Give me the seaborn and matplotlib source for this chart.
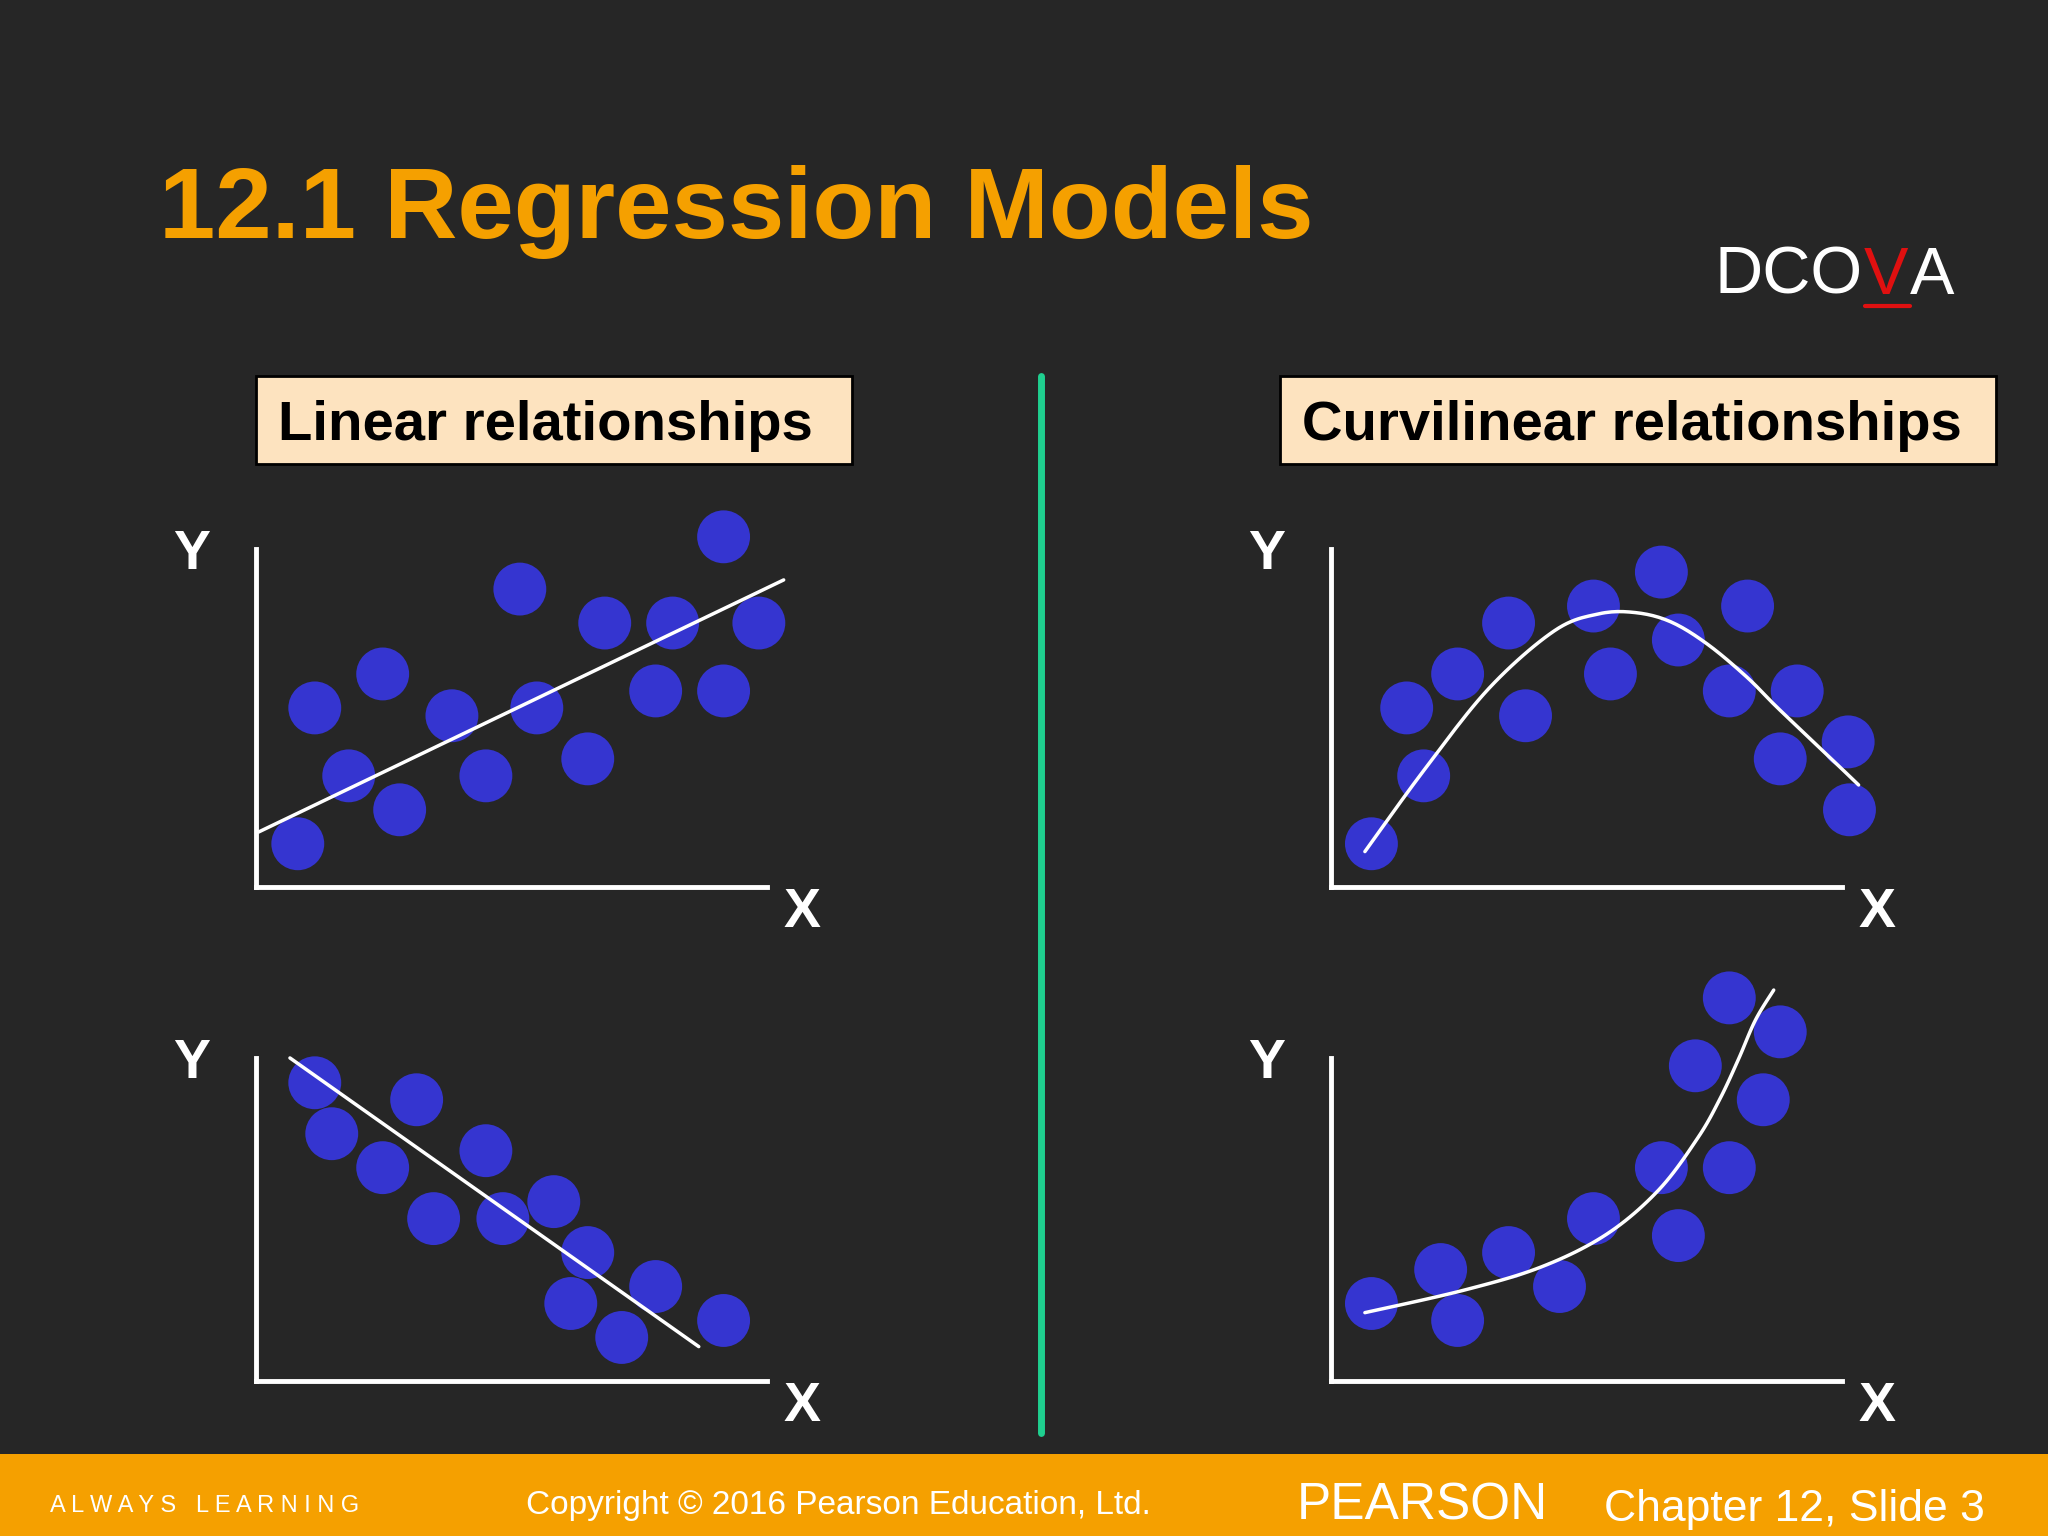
import numpy as np
import matplotlib
matplotlib.use("Agg")
import matplotlib.pyplot as plt
import seaborn as sns

sns.set_theme(style="white")
plt.rcParams["font.family"] = ["Liberation Sans", "DejaVu Sans"]

# reference layout is read on a 1568 x 1176 grid
W, H = 1568.0, 1176.0
BG = "#262626"
ORANGE = "#f5a000"
DOT = "#3535d0"

# ---- data (units: x right, y up, from each panel's origin) ----
lin_up_x = [3.2, 4.5, 7.1, 9.7, 11.0, 15.0, 17.6, 20.2, 21.5, 25.4, 26.7, 30.6, 31.9, 35.8, 35.8, 38.5]
lin_up_y = [3.3, 13.7, 8.5, 16.3, 5.9, 13.1, 8.5, 22.8, 13.7, 9.8, 20.2, 15.0, 20.2, 26.8, 15.0, 20.2]
lin_up_fit_x = [0.2, 40.4]
lin_up_fit_y = [4.2, 23.5]

lin_dn_x = [4.5, 5.8, 9.7, 12.3, 13.6, 17.6, 18.9, 22.8, 25.4, 24.1, 28.0, 30.6, 35.8]
lin_dn_y = [22.8, 18.9, 16.3, 21.5, 12.4, 17.6, 12.4, 13.7, 9.8, 5.9, 3.3, 7.2, 4.6]
lin_dn_fit_x = [2.6, 33.9]
lin_dn_fit_y = [24.7, 2.6]

cur_hill_x = [3.1, 5.8, 7.1, 9.7, 13.6, 14.9, 20.1, 21.4, 25.3, 26.6, 30.5, 31.9, 34.4, 35.7, 39.6, 39.7]
cur_hill_y = [3.3, 13.7, 8.5, 16.3, 20.2, 13.1, 21.5, 16.3, 24.1, 18.9, 15.0, 21.5, 9.8, 15.0, 11.1, 5.9]
cur_hill_fit_x = [2.6, 7.1, 12.1, 17.1, 20.5, 23.3, 26.0, 28.8, 31.8, 34.0, 36.2, 38.0, 40.4]
cur_hill_fit_y = [2.7, 8.9, 15.2, 19.6, 20.9, 21.0, 20.3, 18.6, 16.1, 13.9, 11.8, 10.1, 7.8]

cur_exp_x = [3.1, 8.4, 9.7, 13.6, 17.5, 20.1, 25.3, 26.6, 27.9, 30.5, 30.5, 33.1, 34.4]
cur_exp_y = [5.9, 8.5, 4.6, 9.8, 7.2, 12.4, 16.3, 11.1, 24.1, 16.3, 29.3, 21.5, 26.7]
cur_exp_fit_x = [2.6, 10.1, 16.1, 21.1, 25.1, 28.1, 29.8, 31.2, 32.5, 33.9]
cur_exp_fit_y = [5.2, 6.9, 8.7, 11.2, 14.6, 18.6, 21.6, 24.6, 27.6, 29.9]


def smooth(xs, ys, n=12):
    # Catmull-Rom pass through the read points
    p = np.column_stack([xs, ys]).astype(float)
    p = np.vstack([p[0], p, p[-1]])
    out = []
    for i in range(1, len(p) - 2):
        p0, p1, p2, p3 = p[i - 1], p[i], p[i + 1], p[i + 2]
        for t in np.linspace(0, 1, n, endpoint=False):
            out.append(0.5 * (2 * p1 + (-p0 + p2) * t + (2 * p0 - 5 * p1 + 4 * p2 - p3) * t ** 2
                              + (-p0 + 3 * p1 - 3 * p2 + p3) * t ** 3))
    out.append(p[-2])
    out = np.array(out)
    return out[:, 0], out[:, 1]


panels = [
    (196, 420, 679, lin_up_x, lin_up_y, lin_up_fit_x, lin_up_fit_y),
    (196, 810, 1057, lin_dn_x, lin_dn_y, lin_dn_fit_x, lin_dn_fit_y),
    (1019, 420, 679, cur_hill_x, cur_hill_y, *smooth(cur_hill_fit_x, cur_hill_fit_y)),
    (1019, 810, 1057, cur_exp_x, cur_exp_y, *smooth(cur_exp_fit_x, cur_exp_fit_y)),
]

fig = plt.figure(figsize=(20.48, 15.36), dpi=100, facecolor=BG)

for left, top, orig, xs, ys, fx, fy in panels:
    right = left + 391
    ax = fig.add_axes([left / W, 1 - orig / H, (right - left) / W, (orig - top) / H])
    ax.set_facecolor("none")
    ax.set_xlim(0, (right - left) / 10)
    ax.set_ylim(0, (orig - top) / 10)
    for s in ["top", "right"]:
        ax.spines[s].set_visible(False)
    for s in ["left", "bottom"]:
        ax.spines[s].set_color("white")
        ax.spines[s].set_linewidth(3.5)
    ax.set_xticks([])
    ax.set_yticks([])
    sns.scatterplot(x=xs, y=ys, ax=ax, s=1450, color=DOT, edgecolor="none",
                    linewidth=0, clip_on=False, zorder=2)
    sns.lineplot(x=fx, y=fy, ax=ax, color="white", linewidth=2.5, sort=False,
                 estimator=None, clip_on=False, zorder=3)
    fig.text((left - 49) / W, 1 - (top + 5) / H, "Y",
             color="white", fontsize=40, fontweight="bold", ha="center", va="center")
    fig.text((right + 27) / W, 1 - (orig + 20) / H, "X",
             color="white", fontsize=40, fontweight="bold", ha="center", va="center")

# title
fig.text(122 / W, 1 - 162 / H, "12.1 Regression Models", color=ORANGE,
         fontsize=73, fontweight="bold", ha="left", va="center")

# DCOVA
fig.text(1313 / W, 1 - 212 / H, "DCO", color="white", fontsize=48, ha="left", va="center")
fig.text(1427 / W, 1 - 212 / H, "V", color="#e01010", fontsize=48, ha="left", va="center")
fig.text(1462 / W, 1 - 212 / H, "A", color="white", fontsize=48, ha="left", va="center")
fig.add_artist(plt.Line2D([1428 / W, 1462 / W], [1 - 234 / H, 1 - 234 / H], color="#e01010", lw=3))

# headers
for x0, x1, label in [(196, 652, "Linear relationships"), (980, 1528, "Curvilinear relationships")]:
    fig.text((x0 + 17) / W, 1 - 326 / H, label, color="black", fontsize=40.5,
             fontweight="bold", ha="left", va="center")
    fig.add_artist(plt.Rectangle((x0 / W, 1 - 355 / H), (x1 - x0) / W, 67 / H,
                                 facecolor="#fde3bf", edgecolor="black", lw=2, zorder=0))

# divider
fig.add_artist(plt.Line2D([797 / W, 797 / W], [1 - 288 / H, 1 - 1097 / H], color="#1fcf8f", lw=5))

# footer
fig.add_artist(plt.Rectangle((0, 0), 1, 63 / H, facecolor=ORANGE, edgecolor="none", zorder=0))
fy0 = 1 - 1153 / H
fig.text(38 / W, fy0, "A L W A Y S   L E A R N I N G", color="white", fontsize=17, ha="left", va="center")
fig.text(403 / W, fy0, "Copyright © 2016 Pearson Education, Ltd.", color="white", fontsize=24,
         ha="left", va="center")
fig.text(993 / W, fy0, "PEARSON", color="white", fontsize=37, ha="left", va="center")
fig.text(1228 / W, fy0 - 3 / H, "Chapter 12, Slide 3", color="white", fontsize=32, ha="left", va="center")

fig.savefig("out.png", dpi=100, facecolor=BG)
